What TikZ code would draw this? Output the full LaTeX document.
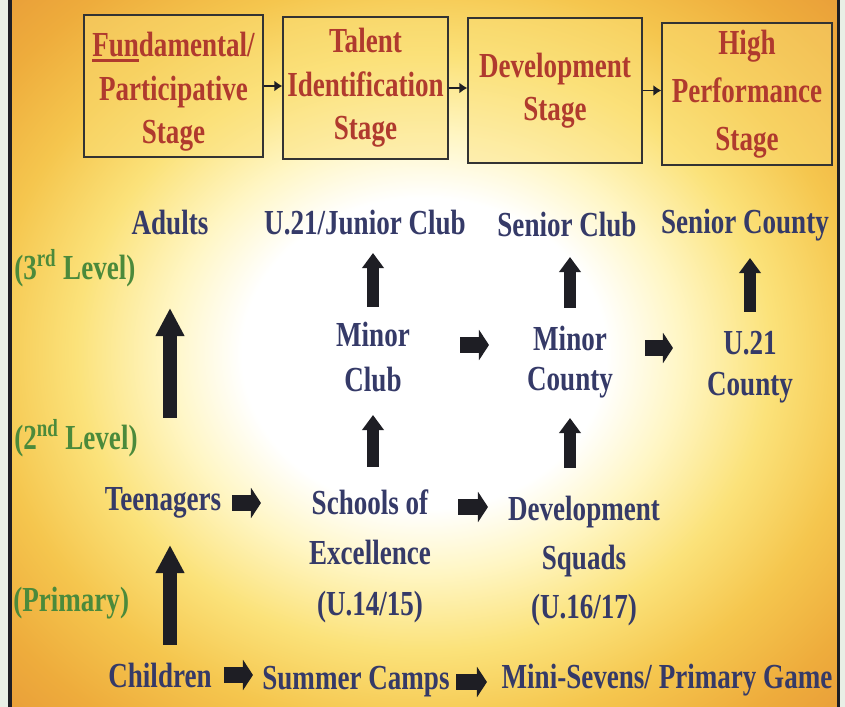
\documentclass[tikz,border=0pt]{standalone}
\usepackage{fontspec}
\setmainfont{Liberation Serif}[FakeStretch=0.77]
\usetikzlibrary{arrows.meta, calc, positioning}

\definecolor{labelnavy}{HTML}{353A68}
\definecolor{stagered}{HTML}{B03A2E}
\definecolor{levelgreen}{HTML}{4B8A3B}
\definecolor{arrowdark}{HTML}{1E1E24}
\definecolor{edgepale}{HTML}{E9EFE6}
\definecolor{glowlight}{HTML}{FFF6C4}
\definecolor{glowyellow}{HTML}{FBE27A}
\definecolor{glowamber}{HTML}{F5C64E}
\definecolor{gloworange}{HTML}{EEAC3C}
\definecolor{glowdeep}{HTML}{E89C38}
\definecolor{boxfill}{HTML}{FBE07A}

\pgfdeclareradialshading{glow}{\pgfpoint{0bp}{0bp}}{color(0bp)=(white); color(11bp)=(white); color(15.5bp)=(glowlight); color(21bp)=(glowyellow); color(26.5bp)=(glowamber); color(32bp)=(gloworange); color(36.5bp)=(glowdeep); color(50bp)=(glowdeep)}

\newcommand{\diagfont}[1]{\bfseries\fontsize{25}{#1}\selectfont}
\newcommand{\stageul}[1]{\vtop{\hbox{#1}\kern1.5pt\hrule height 2pt}}

\begin{document}
\begin{tikzpicture}[
    x=0.025cm, y=-0.025cm,
    stagebox/.style={draw=black!80, line width=0.9pt, fill=boxfill, fill opacity=0.45, text opacity=1, text=stagered, font=\diagfont{31}, align=center, inner sep=0pt, minimum height=3.55cm},
    lbl/.style={text=labelnavy, font=\diagfont{32}, align=center, inner sep=0pt},
    levellbl/.style={text=levelgreen, font=\diagfont{30}, anchor=west, inner sep=0pt},
    steparrow/.style={draw=arrowdark, line width=1.4pt, -{Latex[length=0.2cm, width=0.275cm]}},
    bigup/.style={draw=arrowdark, line width=0.35cm, -{Triangle[width=0.675cm, length=0.7cm]}},
    smallup/.style={draw=arrowdark, line width=0.3cm, -{Triangle[width=0.525cm, length=0.375cm]}},
    smallright/.style={draw=arrowdark, line width=0.4cm, -{Triangle[width=0.75cm, length=0.25cm]}}
]

% Background
\useasboundingbox (0,0) rectangle (845,707);
\fill[edgepale] (0,0) rectangle (845,707);
\shade[shading=glow] (10,0) rectangle (838,707);
\draw[arrowdark, line width=0.075cm] (10,0) -- (10,707);
\draw[arrowdark, line width=0.075cm] (838,0) -- (838,707);

% Stages
\node[stagebox, minimum width=4.475cm] (fund) at (173.5,86) {\rule{0pt}{26pt}\stageul{Fun}damental/\\Participative\\Stage};
\node[stagebox, minimum width=4.125cm] (talent) at (365.5,88) {Talent\\Identification\\Stage};
\node[stagebox, minimum width=4.35cm, minimum height=3.625cm] (devstage) at (555,90.5) {Development\\Stage};
\node[stagebox, minimum width=4.25cm, font=\diagfont{34}] (highperf) at (747,94) {High\\Performance\\Stage};

% Levels
\node[levellbl] (level3) at (14,268) {(3\textsuperscript{rd} Level)};
\node[levellbl] (level2) at (14,438) {(2\textsuperscript{nd} Level)};
\node[levellbl] (primary) at (13,603) {(Primary)};

% Pathway
\node[lbl] (adults) at (170,223) {Adults};
\node[lbl] (junior) at (365,223) {U.21/Junior Club};
\node[lbl] (seniorclub) at (567,225) {Senior Club};
\node[lbl] (seniorcounty) at (745,225) {Senior County};

\node[lbl] (minorclub) at (373,357) {Minor\\Club};
\node[lbl, font=\diagfont{29}] (minorcounty) at (570,362) {Minor\\County};
\node[lbl, font=\diagfont{29}] (u21county) at (750,367) {U.21\\County};

\node[lbl] (teen) at (163,503) {Teenagers};
\node[lbl, font=\diagfont{36}] (schools) at (370,556) {Schools of\\Excellence\\(U.14/15)};
\node[lbl, font=\diagfont{35}] (devsquads) at (584,561) {Development\\Squads\\(U.16/17)};

\node[lbl] (children) at (160,675) {Children};
\node[lbl] (camps) at (356,682) {Summer Camps};
\node[lbl] (mini) at (667,680) {Mini-Sevens/ Primary Game};

% Connections
\draw[steparrow] (fund.east) -- (fund.east -| talent.west);
\draw[steparrow] (talent.east) -- (talent.east -| devstage.west);
\draw[steparrow] (devstage.east) -- (devstage.east -| highperf.west);

\draw[bigup, shorten <=2.125cm, shorten >=2.125cm] (teen.center -| adults.center) -- (adults.center);
\draw[bigup, shorten <=0.75cm, shorten >=1.05cm] (children.center -| adults.center) -- (teen.center -| adults.center);

\draw[smallup, shorten <=1.25cm, shorten >=0.75cm] (minorclub.center) -- (minorclub.center |- junior.center);
\draw[smallup, shorten <=2.225cm, shorten >=1.45cm] (schools.center -| minorclub.center) -- (minorclub.center);
\draw[smallup, shorten <=1.35cm, shorten >=0.8cm] (minorcounty.center) -- (minorcounty.center |- seniorclub.center);
\draw[smallup, shorten <=2.325cm, shorten >=1.4cm] (devsquads.center -| minorcounty.center) -- (minorcounty.center);
\draw[smallup, shorten <=1.375cm, shorten >=0.825cm] (u21county.center) -- (u21county.center |- seniorcounty.center);

\draw[smallright, shorten <=2.175cm, shorten >=2.025cm] ($(minorclub.center)+(0,-12)$) -- ($(minorclub.center -| minorcounty.center)+(0,-12)$);
\draw[smallright, shorten <=1.875cm, shorten >=1.925cm] ($(minorcounty.center)+(0,-14)$) -- ($(minorcounty.center -| u21county.center)+(0,-14)$);
\draw[smallright, shorten <=1.725cm, shorten >=2.725cm] (teen.center) -- (teen.center -| schools.center);
\draw[smallright, shorten <=2.2cm, shorten >=2.4cm] ($(schools.center)+(0,-49)$) -- ($(schools.center -| devsquads.center)+(0,-49)$);
\draw[smallright, shorten <=1.6cm, shorten >=2.575cm] (children.center) -- (children.center -| camps.center);
\draw[smallright, shorten <=2.5cm, shorten >=4.5cm] (camps.center) -- (camps.center -| mini.center);

\end{tikzpicture}
\end{document}
